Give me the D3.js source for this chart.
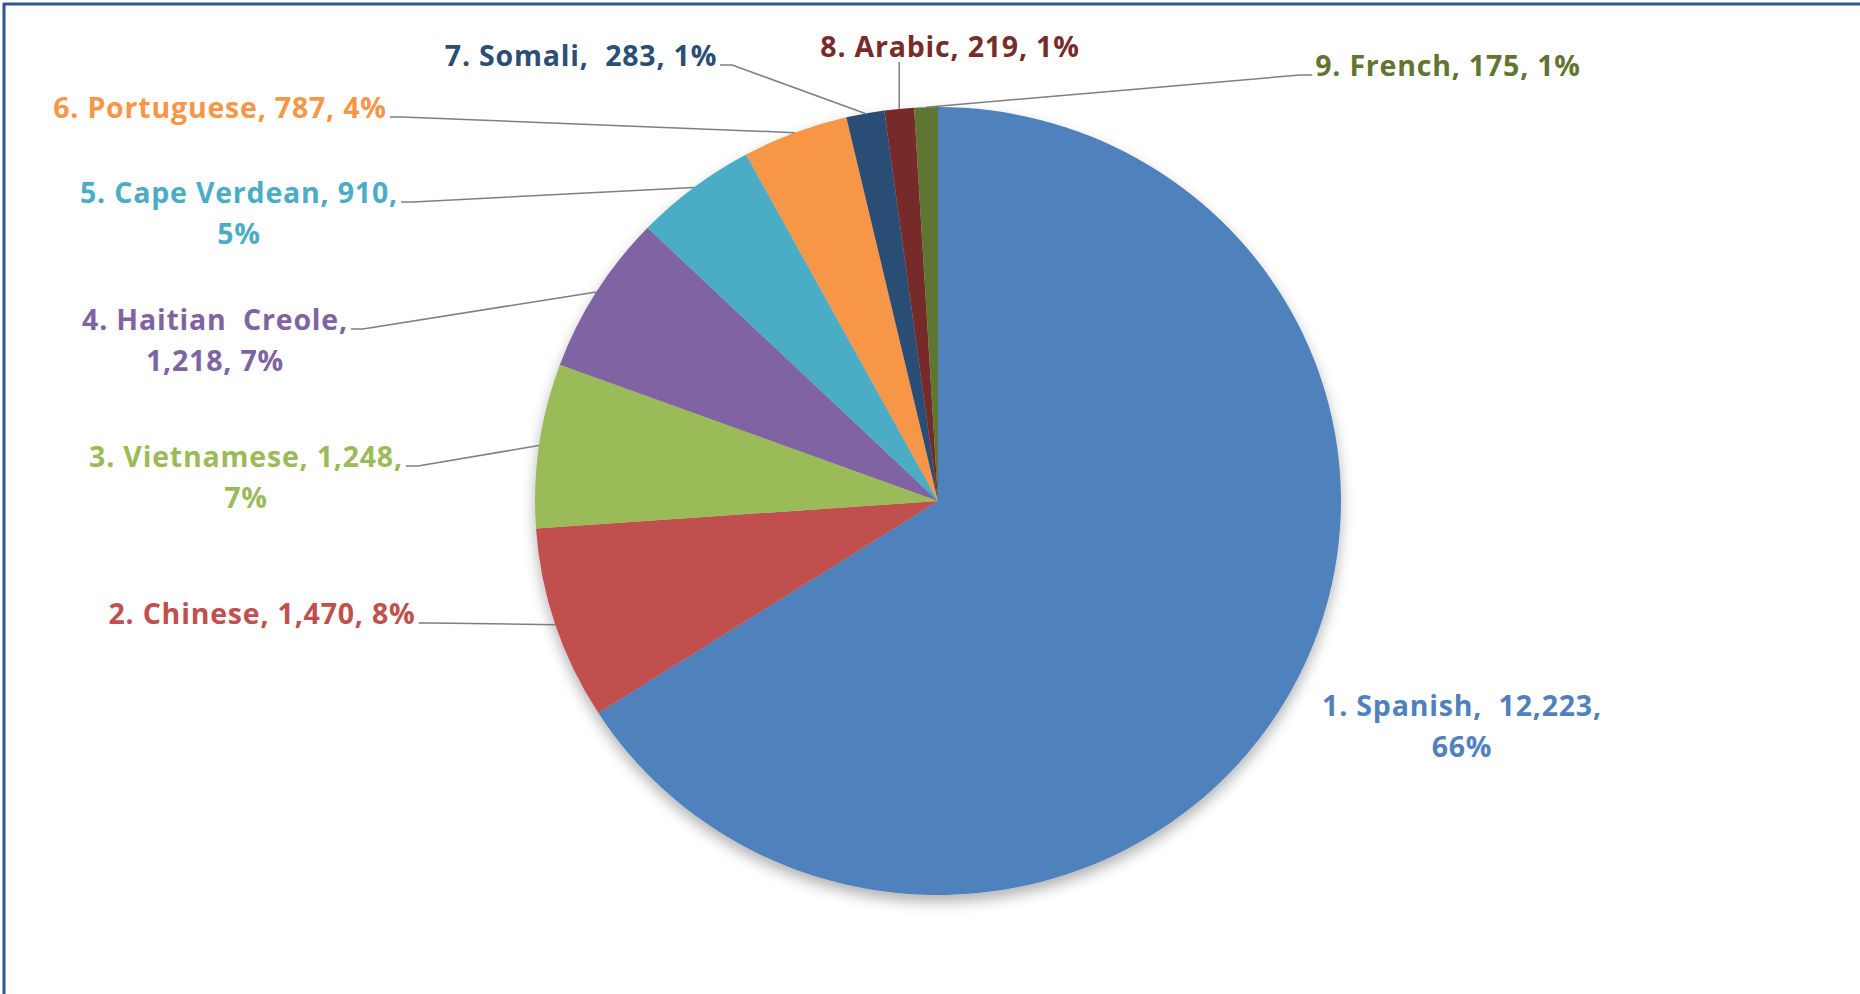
<!DOCTYPE html>
<html>
<head>
<meta charset="utf-8">
<script src="https://cdn.jsdelivr.net/npm/d3@7"></script>
<style>
  body { margin: 0; background: #fff; }
  text { font-family: "Open Sans", Lato, sans-serif; font-weight: 700; white-space: pre; letter-spacing: 0.8px; }
</style>
</head>
<body>
<svg id="chart"></svg>
<script>
let width = 1860;
let height = 994;

// data
let languages = ["1. Spanish", "2. Chinese", "3. Vietnamese", "4. Haitian  Creole", "5. Cape Verdean",
    "6. Portuguese", "7. Somali", "8. Arabic", "9. French"];
let speakers = [12223, 1470, 1248, 1218, 910, 787, 283, 219, 175];
let percents = ["66%", "8%", "7%", "7%", "5%", "4%", "1%", "1%", "1%"];
let colors = ["#4F81BD", "#C0504D", "#9BBB59", "#8064A2", "#4BACC6", "#F79646", "#2C4D75", "#772C2A", "#5F7530"];

// label text lines (how Excel wrapped them)
let labelLines = [
    ["1. Spanish,  12,223,", "66%"],
    ["2. Chinese, 1,470, 8%"],
    ["3. Vietnamese, 1,248,", "7%"],
    ["4. Haitian  Creole,", "1,218, 7%"],
    ["5. Cape Verdean, 910,", "5%"],
    ["6. Portuguese, 787, 4%"],
    ["7. Somali,  283, 1%"],
    ["8. Arabic, 219, 1%"],
    ["9. French, 175, 1%"]
];

// layout: label centre and where the leader leaves the text
let labelPos = [
    { x: 1462, y: 706, leader: "none" },
    { x: 262, y: 614, leader: "right" },
    { x: 246, y: 457, leader: "right" },
    { x: 215, y: 320, leader: "right" },
    { x: 239, y: 193, leader: "right" },
    { x: 220, y: 108, leader: "right" },
    { x: 581, y: 56, leader: "right" },
    { x: 950, y: 47, leader: "below" },
    { x: 1448, y: 66, leader: "left" }
];

let cx = 938, cy = 501, radius = 397;
let sx = 403 / radius, sy = 394 / radius;
let lineGap = 41;

let svg = d3.select("#chart")
    .attr("width", width)
    .attr("height", height)

// frame
svg.append("line").attr("x1", 3).attr("x2", width).attr("y1", 4).attr("y2", 4)
    .attr("stroke", "#2F5597").attr("stroke-width", 3)
svg.append("line").attr("x1", 4).attr("x2", 4).attr("y1", 3).attr("y2", height)
    .attr("stroke", "#2F5597").attr("stroke-width", 3)

let defs = svg.append("defs")
let shadow = defs.append("filter").attr("id", "shadow")
    .attr("x", "-10%").attr("y", "-10%").attr("width", "120%").attr("height", "125%")
shadow.append("feDropShadow")
    .attr("dx", 0).attr("dy", 7).attr("stdDeviation", 7)
    .attr("flood-color", "#000").attr("flood-opacity", 0.3)

let data = languages.map((name, i) => ({ name: name, value: speakers[i], i: i }));

let pie = d3.pie()
    .sort(null)
    .value(d => d.value)

let arcs = pie(data);

let arc = d3.arc()
    .innerRadius(0)
    .outerRadius(radius)

let g = svg.append("g")
    .attr("transform", `translate(${cx}, ${cy}) scale(${sx}, ${sy})`)

g.append("g")
    .attr("filter", "url(#shadow)")
    .selectAll(".slice")
    .data(arcs)
    .enter()
    .append("path")
    .classed("slice", true)
    .attr("d", arc)
    .attr("fill", d => colors[d.data.i])

// labels
let labels = svg.selectAll(".label")
    .data(arcs)
    .enter()
    .append("text")
    .classed("label", true)
    .attr("text-anchor", "middle")
    .attr("font-size", 28.5)
    .attr("fill", d => colors[d.data.i])

labels.each(function(d) {
    let pos = labelPos[d.data.i];
    let t = d3.select(this);
    labelLines[d.data.i].forEach((line, k) => {
        t.append("tspan")
            .attr("x", pos.x)
            .attr("y", pos.y + k * lineGap)
            .attr("dy", "0.35em")
            .text(line)
    })
})

// leader lines
labels.each(function(d) {
    let pos = labelPos[d.data.i];
    if (pos.leader === "none") return;
    let mid = (d.startAngle + d.endAngle) / 2;
    let px = cx + radius * sx * Math.sin(mid);
    let py = cy - radius * sy * Math.cos(mid);
    let w = this.querySelector("tspan").getComputedTextLength();
    let pts;
    if (pos.leader === "right") {
        let x0 = pos.x + w / 2 + 3;
        pts = [[x0, pos.y + 9], [x0 + 12, pos.y + 9], [px, py]];
    } else if (pos.leader === "left") {
        let x0 = pos.x - w / 2 - 3;
        pts = [[x0, pos.y + 9], [x0 - 12, pos.y + 9], [px, py]];
    } else {
        pts = [[px, pos.y + 15], [px, py]];
    }
    svg.append("path")
        .attr("d", d3.line()(pts))
        .attr("fill", "none")
        .attr("stroke", "#7F7F7F")
        .attr("stroke-width", 1.5)
})
</script>
</body>
</html>
